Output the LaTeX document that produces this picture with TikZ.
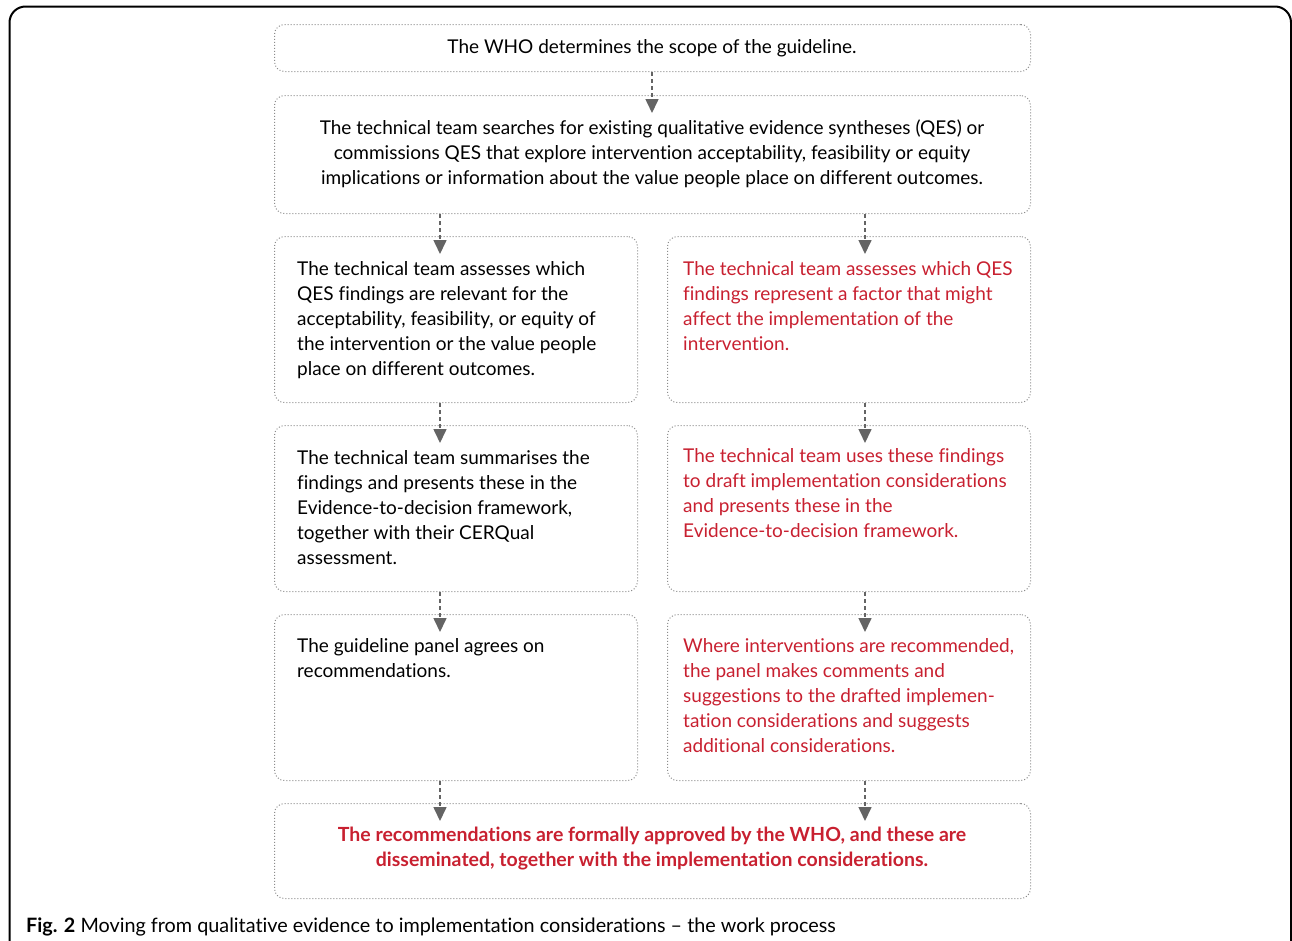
\documentclass[tikz,border=0pt]{standalone}
\usepackage{fontspec}
\setmainfont{Lato}[Ligatures=NoCommon]
\usetikzlibrary{arrows.meta}
\definecolor{qred}{RGB}{200,32,48}
\definecolor{boxgray}{RGB}{140,140,140}
\definecolor{arrgray}{RGB}{100,100,100}
\tikzset{
  box/.style={draw=boxgray, line width=1pt, dotted, rounded corners=10pt, anchor=north west, inner sep=0pt},
  txt/.style={font=\fontsize{19}{25}\selectfont, inner sep=0pt, align=left, anchor=north west},
  ctxt/.style={font=\fontsize{19}{25}\selectfont, inner sep=0pt, align=center},
  arr/.style={draw=arrgray, line width=1.6pt, dash pattern=on 4pt off 3pt, -{Triangle[width=13pt,length=14pt]}},
}
\begin{document}
\begin{tikzpicture}[x=1pt,y=-1pt]
\useasboundingbox (0,0) rectangle (1292,940);
\draw[line width=2pt, rounded corners=16pt] (9.5,6.5) rectangle (1291,980);
% boxes
\node[box, minimum width=756pt, minimum height=47pt] (A) at (274,24) {};
\node[box, minimum width=756pt, minimum height=118pt] (B) at (274,95) {};
\node[box, minimum width=363pt, minimum height=166pt] (L1) at (274,236) {};
\node[box, minimum width=363pt, minimum height=166pt] (R1) at (667,236) {};
\node[box, minimum width=363pt, minimum height=166pt] (L2) at (274,425) {};
\node[box, minimum width=363pt, minimum height=166pt] (R2) at (667,425) {};
\node[box, minimum width=363pt, minimum height=166pt] (L3) at (274,614) {};
\node[box, minimum width=363pt, minimum height=166pt] (R3) at (667,614) {};
\node[box, minimum width=756pt, minimum height=95pt] (F) at (274,803) {};
% texts
\node[ctxt] (tA) at (652,48.5) {The WHO determines the scope of the guideline.};
\node[ctxt] (tB) at (652,153.5) {The technical team searches for existing qualitative evidence syntheses (QES) or\\commissions QES that explore intervention acceptability, feasibility or equity\\implications or information about the value people place on different outcomes.};
\node[txt] (tL1) at (297,261) {The technical team assesses which\\QES findings are relevant for the\\acceptability, feasibility, or equity of\\the intervention or the value people\\place on different outcomes.};
\node[txt, text=qred] (tR1) at (683,261) {The technical team assesses which QES\\findings represent a factor that might\\affect the implementation of the\\intervention.};
\node[txt] (tL2) at (297,450) {The technical team summarises the\\findings and presents these in the\\Evidence-to-decision framework,\\together with their CERQual\\assessment.};
\node[txt, text=qred] (tR2) at (683,448) {The technical team uses these findings\\to draft implementation considerations\\and presents these in the\\Evidence-to-decision framework.};
\node[txt] (tL3) at (297,638) {The guideline panel agrees on\\recommendations.};
\node[txt, text=qred] (tR3) at (683,638) {Where interventions are recommended,\\the panel makes comments and\\suggestions to the drafted implemen-\\tation considerations and suggests\\additional considerations.};
\node[ctxt, text=qred, font=\fontsize{19.5}{25}\selectfont\bfseries] (tF) at (652,848.5) {The recommendations are formally approved by the WHO, and these are\\disseminated, together with the implementation considerations.};
% caption
\node[inner sep=0pt, anchor=base west, font=\fontsize{19.8}{25}\selectfont] (cap) at (26,932) {\textbf{Fig. 2} Moving from qualitative evidence to implementation considerations – the work process};
% arrow x positions
\coordinate (xm) at (652,0);
\coordinate (xl) at (440,0);
\coordinate (xr) at (865,0);
\draw[arr] (A.south -| xm) -- ([yshift=-18pt]B.north -| xm);
\draw[arr] (B.south -| xl) -- ([yshift=-18pt]L1.north -| xl);
\draw[arr] (B.south -| xr) -- ([yshift=-18pt]R1.north -| xr);
\draw[arr] (L1.south -| xl) -- ([yshift=-18pt]L2.north -| xl);
\draw[arr] (R1.south -| xr) -- ([yshift=-18pt]R2.north -| xr);
\draw[arr] (L2.south -| xl) -- ([yshift=-18pt]L3.north -| xl);
\draw[arr] (R2.south -| xr) -- ([yshift=-18pt]R3.north -| xr);
\draw[arr] (L3.south -| xl) -- ([yshift=-18pt]F.north -| xl);
\draw[arr] (R3.south -| xr) -- ([yshift=-18pt]F.north -| xr);
\end{tikzpicture}
\end{document}
